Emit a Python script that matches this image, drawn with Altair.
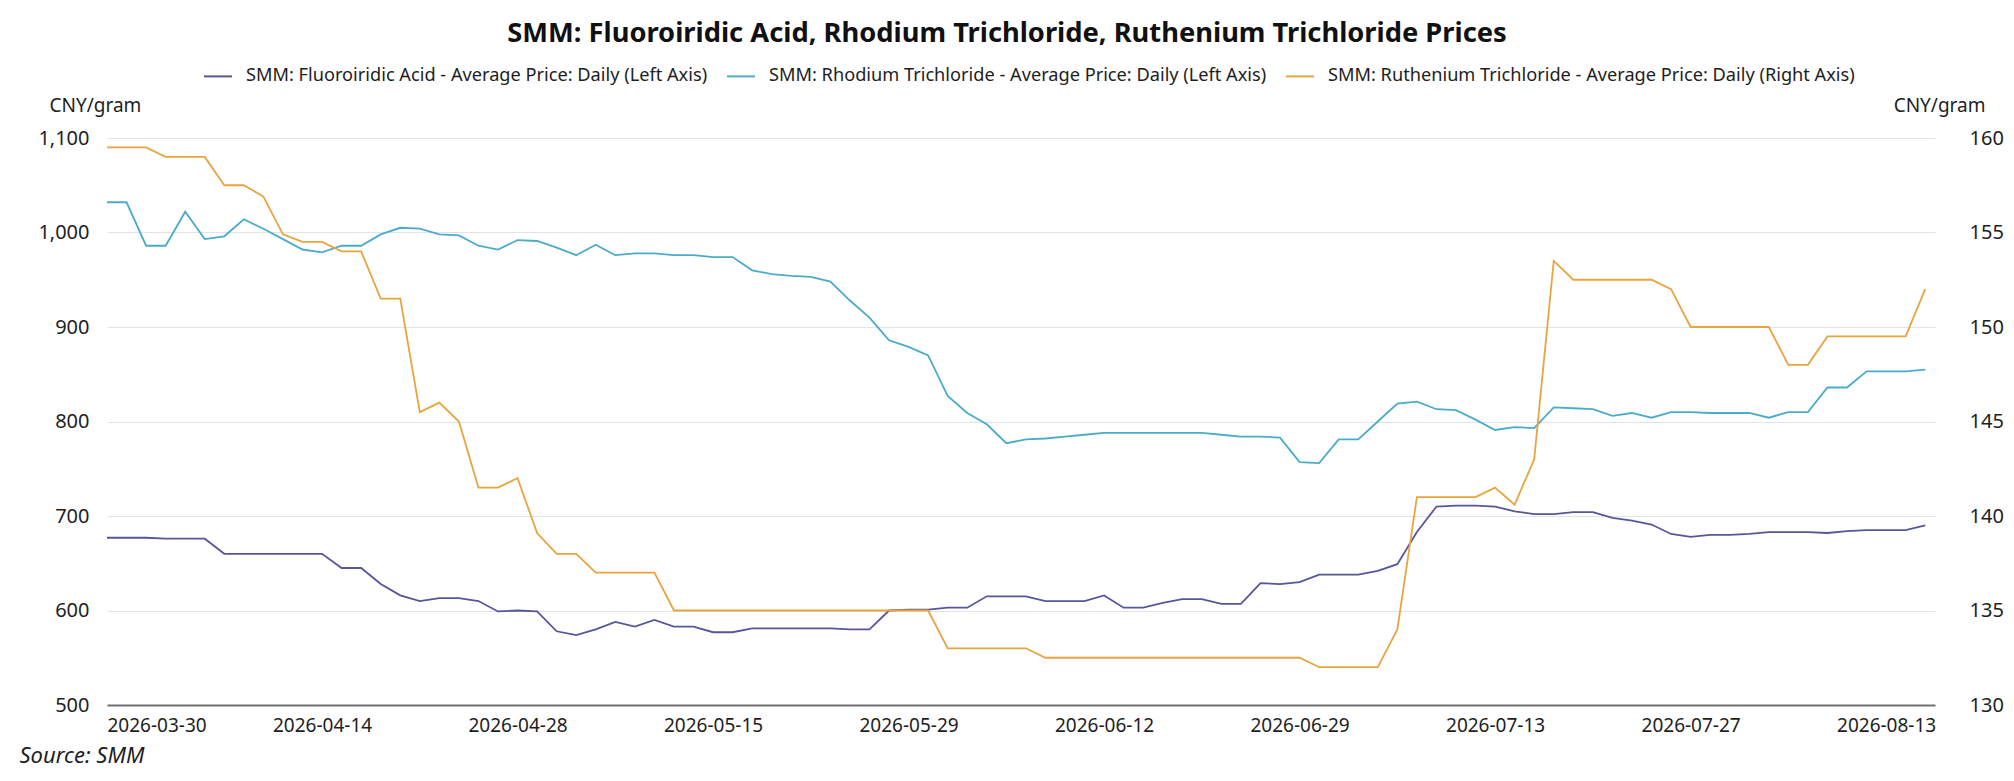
import altair as alt
import pandas as pd

dates = [
    "2026-03-30", "2026-03-31", "2026-04-01", "2026-04-02", "2026-04-03", "2026-04-06", "2026-04-07",
    "2026-04-08", "2026-04-09", "2026-04-10", "2026-04-13", "2026-04-14", "2026-04-15", "2026-04-16",
    "2026-04-17", "2026-04-20", "2026-04-21", "2026-04-22", "2026-04-23", "2026-04-24", "2026-04-27",
    "2026-04-28", "2026-04-29", "2026-04-30", "2026-05-06", "2026-05-07", "2026-05-08", "2026-05-11",
    "2026-05-12", "2026-05-13", "2026-05-14", "2026-05-15", "2026-05-18", "2026-05-19", "2026-05-20",
    "2026-05-21", "2026-05-22", "2026-05-25", "2026-05-26", "2026-05-27", "2026-05-28", "2026-05-29",
    "2026-06-01", "2026-06-02", "2026-06-03", "2026-06-04", "2026-06-05", "2026-06-08", "2026-06-09",
    "2026-06-10", "2026-06-11", "2026-06-12", "2026-06-15", "2026-06-16", "2026-06-17", "2026-06-18",
    "2026-06-22", "2026-06-23", "2026-06-24", "2026-06-25", "2026-06-26", "2026-06-29", "2026-06-30",
    "2026-07-01", "2026-07-02", "2026-07-03", "2026-07-06", "2026-07-07", "2026-07-08", "2026-07-09",
    "2026-07-10", "2026-07-13", "2026-07-14", "2026-07-15", "2026-07-16", "2026-07-17", "2026-07-20",
    "2026-07-21", "2026-07-22", "2026-07-23", "2026-07-24", "2026-07-27", "2026-07-28", "2026-07-29",
    "2026-07-30", "2026-08-03", "2026-08-04", "2026-08-05", "2026-08-10", "2026-08-11", "2026-08-12",
    "2026-08-13", "2026-08-14", "2026-08-17",
]

fluoro = [
    677, 677, 677, 676, 676, 676, 660, 660, 660, 660, 660, 660, 645, 645, 628, 616, 610, 613, 613, 610,
    599, 600, 599, 578, 574, 580, 588, 583, 590, 583, 583, 577, 577, 581, 581, 581, 581, 581, 580, 580,
    600, 601, 601, 603, 603, 615, 615, 615, 610, 610, 610, 616, 603, 603, 608, 612, 612, 607, 607, 629,
    628, 630, 638, 638, 638, 642, 649, 683, 710, 711, 711, 710, 705, 702, 702, 704, 704, 698, 695, 691,
    681, 678, 680, 680, 681, 683, 683, 683, 682, 684, 685, 685, 685, 690,
]

rhodium = [
    1032, 1032, 986, 986, 1022, 993, 996, 1014, 1004, 993, 982, 979, 986, 986, 998, 1005, 1004, 998,
    997, 986, 982, 992, 991, 984, 976, 987, 976, 978, 978, 976, 976, 974, 974, 960, 956, 954, 953, 948,
    928, 910, 886, 879, 870, 827, 809, 797, 777, 781, 782, 784, 786, 788, 788, 788, 788, 788, 788, 786,
    784, 784, 783, 757, 756, 781, 781, 800, 819, 821, 813, 812, 802, 791, 794, 793, 815, 814, 813, 806,
    809, 804, 810, 810, 809, 809, 809, 804, 810, 810, 836, 836, 853, 853, 853, 855,
]

ruthenium = [
    159.5, 159.5, 159.5, 159.0, 159.0, 159.0, 157.5, 157.5, 156.9, 154.9, 154.5, 154.5, 154.0, 154.0,
    151.5, 151.5, 145.5, 146.0, 145.0, 141.5, 141.5, 142.0, 139.1, 138.0, 138.0, 137.0, 137.0, 137.0,
    137.0, 135.0, 135.0, 135.0, 135.0, 135.0, 135.0, 135.0, 135.0, 135.0, 135.0, 135.0, 135.0, 135.0,
    135.0, 133.0, 133.0, 133.0, 133.0, 133.0, 132.5, 132.5, 132.5, 132.5, 132.5, 132.5, 132.5, 132.5,
    132.5, 132.5, 132.5, 132.5, 132.5, 132.5, 132.0, 132.0, 132.0, 132.0, 134.0, 141.0, 141.0, 141.0,
    141.0, 141.5, 140.6, 143.0, 153.5, 152.5, 152.5, 152.5, 152.5, 152.5, 152.0, 150.0, 150.0, 150.0,
    150.0, 150.0, 148.0, 148.0, 149.5, 149.5, 149.5, 149.5, 149.5, 152.0,
]

label_dates = ["2026-03-30", "2026-04-14", "2026-04-28", "2026-05-15", "2026-05-29",
               "2026-06-12", "2026-06-29", "2026-07-13", "2026-07-27", "2026-08-13"]
left_ticks = [500, 600, 700, 800, 900, 1000, 1100]
right_ticks = [130, 135, 140, 145, 150, 155, 160]

S1 = "SMM: Fluoroiridic Acid - Average Price: Daily (Left Axis)"
S2 = "SMM: Rhodium Trichloride - Average Price: Daily (Left Axis)"
S3 = "SMM: Ruthenium Trichloride - Average Price: Daily (Right Axis)"
series_names = [S1, S2, S3]
colors = ["#57569b", "#4bacc9", "#e8a43f"]

TITLE = "SMM: Fluoroiridic Acid, Rhodium Trichloride, Ruthenium Trichloride Prices"
FONT = "Noto Sans"
TXT = "#1e1e1e"

n = len(dates)
left_df = pd.DataFrame({"date": dates * 2, "value": fluoro + rhodium,
                        "series": [S1] * n + [S2] * n})
right_df = pd.DataFrame({"date": dates, "value": ruthenium, "series": [S3] * n})

x_enc = alt.X(
    "date:O", sort=dates,
    scale=alt.Scale(type="point", padding=0.25, align=0),
    axis=alt.Axis(values=label_dates, labelAngle=0, labelFontSize=19, labelColor=TXT,
                  labelPadding=11, ticks=False, tickSize=0, domainColor="#707070",
                  domainWidth=2, grid=False, labelFlush=True,
                  title="Source: SMM", titleFontStyle="italic", titleFontWeight="normal",
                  titleFontSize=22, titleColor=TXT, titleX=-88, titleY=50,
                  titleAlign="left", titleBaseline="middle"),
)

color_enc = alt.Color(
    "series:N",
    scale=alt.Scale(domain=series_names, range=colors),
    legend=alt.Legend(orient="none", legendX=96, legendY=-77, direction="horizontal",
                      columns=3, title=None, symbolType="stroke", symbolSize=784,
                      symbolStrokeWidth=2, labelFontSize=18.2, labelLimit=0,
                      columnPadding=15, labelOffset=13, labelColor=TXT),
)

left = alt.Chart(left_df).mark_line(strokeWidth=1.8).encode(
    x=x_enc,
    y=alt.Y("value:Q",
            scale=alt.Scale(domain=[500, 1100], nice=False, zero=False),
            axis=alt.Axis(orient="left", values=left_ticks, format=",.0f", labelFontSize=20,
                          labelColor=TXT, labelPadding=18, ticks=False, tickSize=0,
                          domain=False, grid=True, gridColor="#e2e2ea", gridWidth=1,
                          title="CNY/gram", titleAngle=0, titleX=-58, titleY=-33,
                          titleAlign="left", titleBaseline="middle", titleFontSize=19,
                          titleFontWeight="normal", titleColor=TXT)),
    color=color_enc,
)

right = alt.Chart(right_df).mark_line(strokeWidth=1.8).encode(
    x=x_enc,
    y=alt.Y("value:Q",
            scale=alt.Scale(domain=[130, 160], nice=False, zero=False),
            axis=alt.Axis(orient="right", values=right_ticks, format=".0f", labelFontSize=20,
                          labelColor=TXT, labelPadding=34, ticks=False, tickSize=0,
                          domain=False, grid=False,
                          title="CNY/gram", titleAngle=0, titleX=50, titleY=-33,
                          titleAlign="right", titleBaseline="middle", titleFontSize=19,
                          titleFontWeight="normal", titleColor=TXT)),
    color=color_enc,
)

chart = alt.layer(left, right).resolve_scale(y="independent").properties(
    width=1828, height=567,
    padding={"left": 99, "top": 130, "right": 71, "bottom": 70},
    autosize=alt.AutoSizeParams(type="none"),
    background="white",
    title=alt.TitleParams(text=TITLE, fontSize=27.3, fontWeight="bold", color="#111111",
                          anchor="middle", dx=-14, offset=14, font=FONT),
).configure(font=FONT).configure_view(stroke=None)

chart.save("out.html", embed_options={"renderer": "svg", "actions": False})
